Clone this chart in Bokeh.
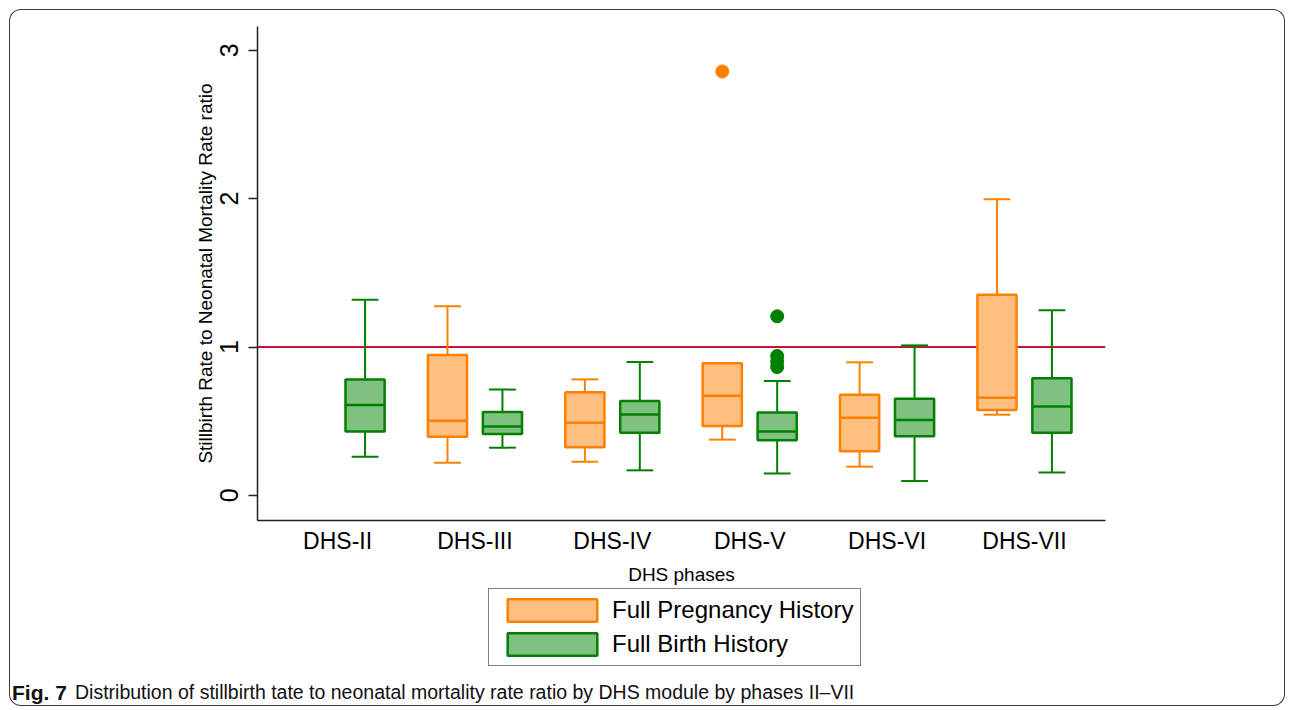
import numpy as np
from bokeh.plotting import figure
from bokeh.layouts import column
from bokeh.models import (FixedTicker, Span, Legend, LegendItem, Label,
                          ColumnDataSource, Range1d)
from bokeh.embed import file_html
from bokeh.resources import INLINE

# ---------------- data ----------------
categories = ["DHS-II", "DHS-III", "DHS-IV", "DHS-V", "DHS-VI", "DHS-VII"]
y_ticks = [0, 1, 2, 3]

# Full Pregnancy History (orange) -- no DHS-II box
fph_lower  = [None, 0.221, 0.227, 0.376, 0.194, 0.544]
fph_q1     = [None, 0.396, 0.324, 0.468, 0.297, 0.576]
fph_median = [None, 0.504, 0.490, 0.672, 0.524, 0.659]
fph_q3     = [None, 0.947, 0.695, 0.890, 0.679, 1.353]
fph_upper  = [None, 1.275, 0.782, 0.890, 0.897, 1.996]
fph_out_cat = ["DHS-V"]
fph_out_val = [2.857]

# Full Birth History (green)
fbh_lower  = [0.261, 0.322, 0.169, 0.148, 0.097, 0.155]
fbh_q1     = [0.430, 0.414, 0.423, 0.371, 0.398, 0.423]
fbh_median = [0.610, 0.465, 0.546, 0.430, 0.508, 0.600]
fbh_q3     = [0.782, 0.562, 0.636, 0.558, 0.652, 0.789]
fbh_upper  = [1.318, 0.713, 0.899, 0.771, 1.011, 1.248]
fbh_out_cat = ["DHS-V", "DHS-V", "DHS-V", "DHS-V"]
fbh_out_val = [1.207, 0.940, 0.902, 0.865]

reference_value = 1.0
series_labels = ["Full Pregnancy History", "Full Birth History"]
caption_bold = "Fig. 7"
caption_text = ("Distribution of stillbirth tate to neonatal mortality rate ratio "
                "by DHS module by phases II\u2013VII")

# ---------------- styling ----------------
FONT = "Liberation Sans"
ORANGE_LINE, ORANGE_FILL = "#FF8000", "#FFBF80"
GREEN_LINE, GREEN_FILL = "#008000", "#80C080"
RED = "#C8103C"
FRAME = "1.5px solid #3a3a3a"
OFFSET = 0.2
BOX_W = 0.285
CAP_W = 0.195

W = 1276
H1, H2 = 578, 119

p = figure(width=W, height=H1, output_backend="svg", toolbar_location=None,
           x_range=Range1d(-0.583, 5.59), y_range=Range1d(-0.169, 3.160),
           min_border_left=247, min_border_right=181,
           min_border_top=16, min_border_bottom=68)
p.border_fill_color = None
p.background_fill_color = "white"
p.outline_line_color = None
p.xgrid.visible = False
p.ygrid.visible = False
p.styles = {"border-top": FRAME, "border-left": FRAME, "border-right": FRAME,
            "border-top-left-radius": "12px", "border-top-right-radius": "12px"}

p.add_layout(Span(location=reference_value, dimension="width",
                  line_color=RED, line_width=2, level="underlay"))


def box_source(offset, lower, q1, med, q3, upper):
    rows = [i for i, v in enumerate(med) if v is not None]
    xs = [i + offset for i in rows]
    return ColumnDataSource(dict(
        x=xs,
        box_l=[x - BOX_W / 2 for x in xs], box_r=[x + BOX_W / 2 for x in xs],
        cap_l=[x - CAP_W / 2 for x in xs], cap_r=[x + CAP_W / 2 for x in xs],
        lower=[lower[i] for i in rows], q1=[q1[i] for i in rows],
        med=[med[i] for i in rows], q3=[q3[i] for i in rows],
        upper=[upper[i] for i in rows]))


def draw_series(src, line, fill):
    kw = dict(source=src, line_color=line, line_width=2)
    p.segment(x0="x", y0="q3", x1="x", y1="upper", **kw)
    p.segment(x0="x", y0="q1", x1="x", y1="lower", **kw)
    p.segment(x0="cap_l", y0="upper", x1="cap_r", y1="upper", **kw)
    p.segment(x0="cap_l", y0="lower", x1="cap_r", y1="lower", **kw)
    p.vbar(x="x", width=BOX_W, top="q3", bottom="q1", source=src,
           fill_color=fill, line_color=line, line_width=2.5)
    p.segment(x0="box_l", y0="med", x1="box_r", y1="med", source=src,
              line_color=line, line_width=2.5)


draw_series(box_source(-OFFSET, fph_lower, fph_q1, fph_median, fph_q3, fph_upper),
            ORANGE_LINE, ORANGE_FILL)
draw_series(box_source(+OFFSET, fbh_lower, fbh_q1, fbh_median, fbh_q3, fbh_upper),
            GREEN_LINE, GREEN_FILL)

p.scatter(x=[categories.index(c) - OFFSET for c in fph_out_cat], y=fph_out_val,
          size=13, color=ORANGE_LINE)
p.scatter(x=[categories.index(c) + OFFSET for c in fbh_out_cat], y=fbh_out_val,
          size=13, color=GREEN_LINE)

# ---------------- axes ----------------
p.xaxis.ticker = FixedTicker(ticks=list(range(len(categories))))
p.xaxis.major_label_overrides = {i: c for i, c in enumerate(categories)}
p.xaxis.major_tick_line_color = None
p.xaxis.minor_tick_line_color = None
p.xaxis.major_label_text_font = FONT
p.xaxis.major_label_text_font_size = "23px"
p.xaxis.major_label_text_color = "black"
p.xaxis.major_label_standoff = 1
p.xaxis.axis_label = "DHS phases"
p.xaxis.axis_label_text_font = FONT
p.xaxis.axis_label_text_font_size = "19px"
p.xaxis.axis_label_text_font_style = "normal"
p.xaxis.axis_label_text_color = "black"
p.xaxis.axis_label_standoff = 7
p.xaxis.axis_line_color = "#222222"
p.xaxis.axis_line_width = 1.5

p.yaxis.ticker = FixedTicker(ticks=y_ticks)
p.yaxis.major_label_orientation = "vertical"
p.yaxis.major_tick_out = 9
p.yaxis.major_tick_in = 0
p.yaxis.major_tick_line_color = "#222222"
p.yaxis.major_tick_line_width = 1.5
p.yaxis.minor_tick_line_color = None
p.yaxis.major_label_text_font = FONT
p.yaxis.major_label_text_font_size = "25px"
p.yaxis.major_label_text_color = "black"
p.yaxis.major_label_standoff = 10
p.yaxis.axis_label = "Stillbirth Rate to Neonatal Mortality Rate ratio"
p.yaxis.axis_label_text_font = FONT
p.yaxis.axis_label_text_font_size = "19px"
p.yaxis.axis_label_text_font_style = "normal"
p.yaxis.axis_label_text_color = "black"
p.yaxis.axis_label_standoff = 2
p.yaxis.axis_line_color = "#222222"
p.yaxis.axis_line_width = 1.5

# ---------------- legend + caption panel ----------------
p2 = figure(width=W, height=H2, output_backend="svg", toolbar_location=None,
            x_axis_type=None, y_axis_type=None,
            x_range=Range1d(0, 1), y_range=Range1d(0, 1),
            min_border=0, min_border_left=0, min_border_right=0,
            min_border_top=0, min_border_bottom=0)
p2.border_fill_color = None
p2.background_fill_color = None
p2.outline_line_color = None
p2.xgrid.visible = False
p2.ygrid.visible = False
p2.styles = {"border-bottom": FRAME, "border-left": FRAME, "border-right": FRAME,
             "border-bottom-left-radius": "12px", "border-bottom-right-radius": "12px"}
for fig in (p, p2):
    try:
        fig.frame_align = False
    except Exception:
        pass

# renderers that only carry the legend swatch styles (NaN -> nothing drawn)
sw_fph = p2.vbar(x=[np.nan], top=[np.nan], bottom=[np.nan], width=0.1,
                 fill_color=ORANGE_FILL, line_color=ORANGE_LINE, line_width=2.5)
sw_fbh = p2.vbar(x=[np.nan], top=[np.nan], bottom=[np.nan], width=0.1,
                 fill_color=GREEN_FILL, line_color=GREEN_LINE, line_width=2.5)

legend = Legend(items=[LegendItem(label=series_labels[0], renderers=[sw_fph]),
                       LegendItem(label=series_labels[1], renderers=[sw_fbh])],
                location=(478, 40), orientation="vertical",
                border_line_color="black", border_line_width=1.3,
                background_fill_color="white", background_fill_alpha=1,
                label_text_font=FONT, label_text_font_size="24px",
                label_text_color="black",
                glyph_width=112, glyph_height=28, label_height=28,
                label_standoff=4, padding=7, spacing=6, margin=0)
p2.add_layout(legend)

p2.add_layout(Label(x=1.5, y=14.5, x_units="screen", y_units="screen",
                    text=caption_bold, text_font=FONT, text_font_style="bold",
                    text_font_size="21px", text_baseline="middle",
                    text_color="#111111"))
p2.add_layout(Label(x=64.5, y=14.5, x_units="screen", y_units="screen",
                    text=caption_text, text_font=FONT, text_font_size="19.5px",
                    text_baseline="middle", text_color="#111111"))

layout = column(p, p2, margin=(9, 0, 0, 9), spacing=0)
open("out.html", "w").write(file_html(layout, INLINE))
